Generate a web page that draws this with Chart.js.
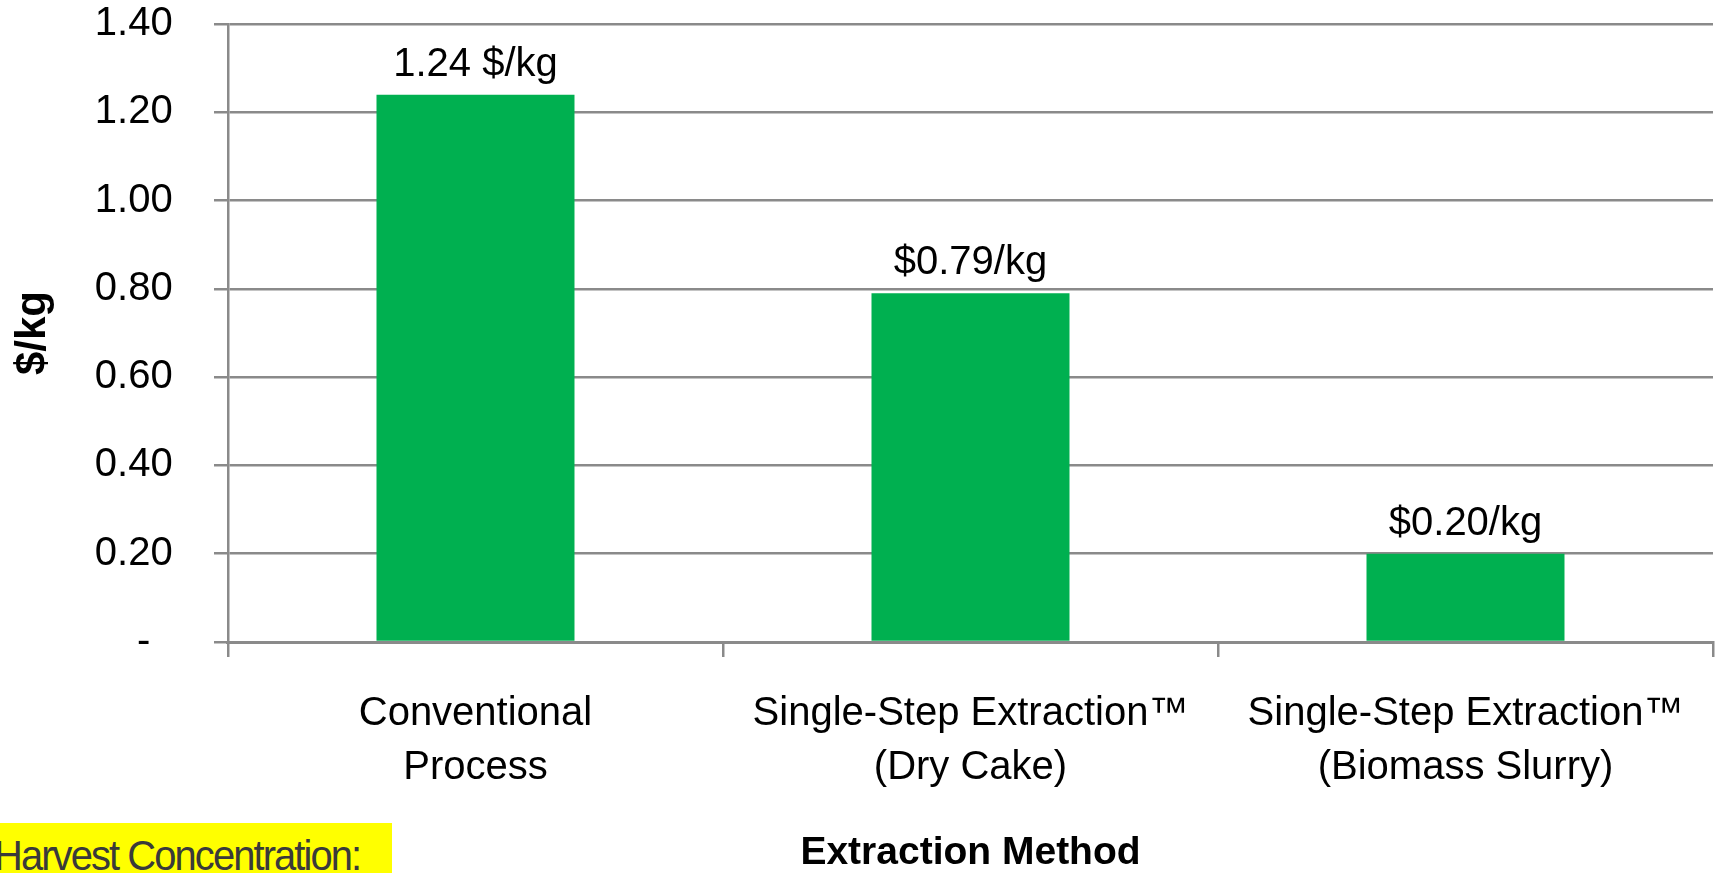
<!DOCTYPE html>
<html>
<head>
<meta charset="utf-8">
<script src="https://cdn.jsdelivr.net/npm/chart.js@4.4.1/dist/chart.umd.min.js"></script>
<style>
  html, body { margin: 0; padding: 0; background: #ffffff; }
  #wrap { position: relative; width: 1721px; height: 873px; overflow: hidden; }
  #chart { position: absolute; left: 0; top: 0; }
  #note {
    position: absolute; left: 0; top: 823px; width: 392px; height: 50px;
    background: #FFFF00; overflow: hidden;
  }
  #note span {
    position: absolute; left: -6px; top: 12px; white-space: nowrap;
    color: #3a3a3a; font-family: "Liberation Sans", Arial, sans-serif;
    font-size: 42px; line-height: 42px; letter-spacing: -2px;
    transform: scaleX(0.95); transform-origin: 0 0;
  }
</style>
</head>
<body>
<div id="wrap">
  <canvas id="chart" width="1721" height="873"></canvas>
  <div id="note"><span>Harvest Concentration:</span></div>
</div>
<script>
// ---- data ----
const categories = [
  ["Conventional", "Process"],
  ["Single-Step Extraction\u2122", "(Dry Cake)"],
  ["Single-Step Extraction\u2122", "(Biomass Slurry)"]
];
const costValues = [1.24, 0.79, 0.20];
const valueLabels = ["1.24 $/kg", "$0.79/kg", "$0.20/kg"];
const yTickLabels = ["-", "0.20", "0.40", "0.60", "0.80", "1.00", "1.20", "1.40"];
const yAxisTitle = "$/kg";
const xAxisTitle = "Extraction Method";

const FONT = "'Liberation Sans', Arial, sans-serif";
const GRID = "#8a8a8a";
const TRAIL = "\u0020\u0020\u0020"; // right-side spacing like the accounting format

const valueLabelPlugin = {
  id: 'valueLabels',
  afterDatasetsDraw(chart) {
    const ctx = chart.ctx;
    const meta = chart.getDatasetMeta(0);
    ctx.save();
    ctx.font = "40px " + FONT;
    ctx.fillStyle = "#000000";
    ctx.textAlign = "center";
    ctx.textBaseline = "alphabetic";
    meta.data.forEach((el, i) => {
      ctx.fillText(valueLabels[i], el.x, el.y - 19);
    });
    ctx.restore();
  }
};

new Chart(document.getElementById('chart'), {
  type: 'bar',
  data: {
    labels: categories,
    datasets: [{
      data: costValues,
      backgroundColor: '#00B050',
      borderWidth: 0,
      categoryPercentage: 1.0,
      barPercentage: 0.4
    }]
  },
  options: {
    responsive: false,
    devicePixelRatio: 1,
    animation: false,
    layout: { padding: { top: 0, right: 8, bottom: 0, left: 0 } },
    plugins: {
      legend: { display: false },
      tooltip: { enabled: false },
      title: { display: false }
    },
    scales: {
      x: {
        offset: true,
        grid: {
          display: true,
          drawOnChartArea: false,
          drawTicks: true,
          tickLength: 15,
          color: GRID,
          lineWidth: 2.5
        },
        border: { display: true, color: GRID, width: 3 },
        ticks: {
          color: '#000000',
          font: { family: FONT, size: 40, lineHeight: 1.35 },
          padding: 30,
          maxRotation: 0,
          autoSkip: false
        },
        title: {
          display: true,
          text: xAxisTitle,
          color: '#000000',
          font: { family: FONT, size: 39, weight: 'bold', lineHeight: 1 },
          padding: { top: 9, bottom: 0 }
        }
      },
      y: {
        min: 0,
        max: 1.4,
        grid: {
          color: GRID,
          lineWidth: 2.5,
          drawTicks: true,
          tickLength: 14
        },
        border: { display: true, color: GRID, width: 2.5 },
        ticks: {
          stepSize: 0.2,
          color: '#000000',
          font: { family: FONT, size: 40, lineHeight: 0.8 },
          padding: 8,
          callback: (v, i) => yTickLabels[i] + (i === 0 ? TRAIL + "\u0020\u0020" : TRAIL)
        },
        title: {
          display: true,
          text: yAxisTitle,
          color: '#000000',
          font: { family: FONT, size: 42, weight: 'bold', lineHeight: 1.1 },
          padding: { top: 10, bottom: 30.6 }
        }
      }
    }
  },
  plugins: [valueLabelPlugin]
});
</script>
</body>
</html>
